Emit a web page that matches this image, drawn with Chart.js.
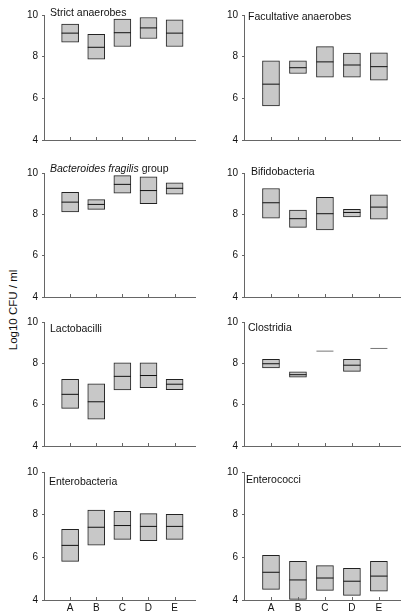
<!DOCTYPE html>
<html lang="en">
<head>
  <meta charset="UTF-8" />
  <title>Log10 CFU / ml by group</title>
  <script src="https://cdn.jsdelivr.net/npm/chart.js"></script>
  <style>
    body { margin: 0; background: #fff; font-family: "Liberation Sans", Arial, sans-serif; }
    #wrap { position: relative; width: 410px; height: 614px; overflow: hidden; }
    canvas { position: absolute; }
    .title { position: absolute; font-size: 10.5px; color: #111; white-space: nowrap; line-height: 12px; }
    #ylabel { position: absolute; left: 13px; top: 310px; font-size: 11.5px; color: #111;
              transform: translate(-50%, -50%) rotate(-90deg); white-space: nowrap; }
  </style>
</head>
<body>
<div id="wrap">
  <div id="ylabel">Log10 CFU / ml</div>
</div>

<script>
const groups = ['A', 'B', 'C', 'D', 'E'];
const yTicks = [4, 6, 8, 10];

const panelTitles = [
  'Strict anaerobes', 'Facultative anaerobes',
  '<i>Bacteroides fragilis</i> group', 'Bifidobacteria',
  'Lactobacilli', 'Clostridia',
  'Enterobacteria', 'Enterococci'
];

// per panel: values for A..E (null = no box drawn)
const upperValues = [
  [9.57, 9.07, 9.81, 9.88, 9.77],
  [7.80, 7.80, 8.48, 8.17, 8.19],
  [9.06, 8.71, 9.87, 9.81, 9.53],
  [9.25, 8.21, 8.82, 8.24, 8.94],
  [7.23, 7.01, 8.03, 8.03, 7.23],
  [8.19, 7.59, null, 8.19, null],
  [7.31, 8.21, 8.16, 8.05, 8.02],
  [6.09, 5.81, 5.61, 5.48, 5.81]
];
const medianValues = [
  [9.13, 8.45, 9.15, 9.38, 9.13],
  [6.68, 7.47, 7.75, 7.60, 7.52],
  [8.59, 8.48, 9.45, 9.15, 9.26],
  [8.56, 7.79, 8.03, 8.09, 8.35],
  [6.50, 6.14, 7.37, 7.41, 6.99],
  [7.98, 7.45, 8.59, 7.91, 8.72],
  [6.56, 7.41, 7.49, 7.45, 7.45],
  [5.30, 4.94, 5.03, 4.88, 5.12]
];
const lowerValues = [
  [8.69, 7.88, 8.49, 8.87, 8.49],
  [5.63, 7.19, 7.01, 7.01, 6.87],
  [8.12, 8.24, 9.03, 8.51, 8.98],
  [7.82, 7.37, 7.24, 7.88, 7.77],
  [5.82, 5.30, 6.71, 6.82, 6.72],
  [7.78, 7.33, null, 7.61, null],
  [5.81, 6.57, 6.84, 6.78, 6.84],
  [4.50, 4.03, 4.45, 4.22, 4.41]
];

// layout of the 2 x 4 panels
const rowTop = [15, 173, 321.5, 471.5];   // pixel of value 10
const rowBottom = [144, 301, 450, 600];   // pixel of value 4
const titleSpots = [[50, 6], [248, 10], [50, 162], [251, 165], [50, 322], [248, 321], [49, 475], [246, 473]];

const inwardTicks = {
  id: 'inwardTicks',
  afterDatasetsDraw(chart) {
    const x = chart.scales.x, ctx = chart.ctx;
    ctx.save();
    ctx.strokeStyle = '#666';
    ctx.lineWidth = 1;
    x.ticks.forEach(t => {
      const px = Math.round(x.getPixelForValue(t.value)) + 0.5;
      ctx.beginPath();
      ctx.moveTo(px, x.top);
      ctx.lineTo(px, x.top - 3);
      ctx.stroke();
    });
    ctx.restore();
  }
};

const wrap = document.getElementById('wrap');

panelTitles.forEach((title, p) => {
  const col = p % 2, row = Math.floor(p / 2);
  const isBottom = row === 3;
  const axisW = col === 0 ? 44 : 39;
  const padRight = col === 0 ? 2 : 5;
  const xh = isBottom ? 16 : 6;
  const top = rowTop[row] - 10;
  const h = (rowBottom[row] - rowTop[row]) + 10 + xh;

  const canvas = document.createElement('canvas');
  canvas.style.left = (col * 205) + 'px';
  canvas.style.top = top + 'px';
  canvas.style.width = '205px';
  canvas.style.height = h + 'px';
  canvas.width = 205;
  canvas.height = h;
  wrap.appendChild(canvas);

  const t = document.createElement('div');
  t.className = 'title';
  t.style.left = titleSpots[p][0] + 'px';
  t.style.top = titleSpots[p][1] + 'px';
  t.innerHTML = title;
  wrap.appendChild(t);

  const boxes = groups.map((g, i) => ({
    x: i + 1,
    y: lowerValues[p][i] === null ? null : [lowerValues[p][i], upperValues[p][i]]
  }));
  const medians = groups.map((g, i) => ({ x: i + 1, y: medianValues[p][i] }));
  const medianColors = groups.map((g, i) => lowerValues[p][i] === null ? '#777' : '#111');

  new Chart(canvas, {
    type: 'bar',
    data: {
      datasets: [
        {
          data: boxes,
          backgroundColor: '#c8c8c8',
          borderColor: '#222',
          borderWidth: 1,
          borderSkipped: false,
          barThickness: 17,
          order: 2
        },
        {
          type: 'scatter',
          data: medians,
          pointStyle: 'line',
          pointRadius: 8.5,
          pointBorderWidth: 1,
          pointBorderColor: medianColors,
          order: 1
        }
      ]
    },
    options: {
      responsive: false,
      animation: false,
      events: [],
      layout: { padding: { top: 10, right: padRight, left: 0, bottom: 0 } },
      plugins: { legend: { display: false }, tooltip: { enabled: false } },
      scales: {
        x: {
          type: 'linear',
          min: 0,
          max: 5.8,
          offset: false,
          afterBuildTicks: s => { s.ticks = groups.map((g, i) => ({ value: i + 1 })); },
          afterFit: s => { s.height = xh; },
          grid: { display: false, drawTicks: false, tickLength: 0, offset: false },
          border: { display: true, color: '#666', width: 1 },
          ticks: {
            display: isBottom,
            padding: 2,
            font: { family: '"Liberation Sans", Arial', size: 10 },
            color: '#111',
            callback: v => groups[v - 1] || ''
          }
        },
        y: {
          min: 4,
          max: 10,
          afterBuildTicks: s => { s.ticks = yTicks.map(v => ({ value: v })); },
          afterFit: s => { s.width = axisW; },
          grid: { drawOnChartArea: false, drawTicks: true, tickLength: 2, color: '#666' },
          border: { display: true, color: '#666', width: 1 },
          ticks: {
            padding: 4,
            font: { family: '"Liberation Sans", Arial', size: 10 },
            color: '#111'
          }
        }
      }
    },
    plugins: [inwardTicks]
  });
});
</script>
</body>
</html>
